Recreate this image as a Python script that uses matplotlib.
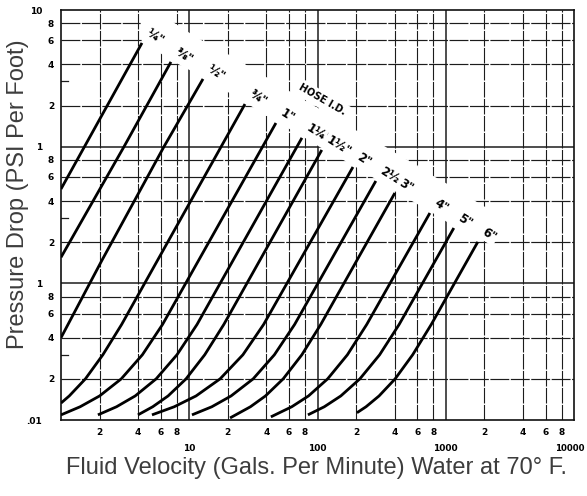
import matplotlib
matplotlib.use("Agg")
import matplotlib.pyplot as plt
from matplotlib.patches import Polygon
from matplotlib.transforms import ScaledTranslation

# Caudal (gpm) y caida de presion (psi por pie), una curva por manguera
hose_labels = ['¼"', '⅜"', '½"', '¾"', '1"', '1¼"', '1½"', '2"', '2½"', '3"', '4"', '5"', '6"']

gpm_0250 = [1, 4.28]
psi_0250 = [0.49, 5.74]
gpm_0375 = [1, 3.1, 7.2]
psi_0375 = [0.155, 1.0, 4.17]
gpm_0500 = [1, 2.09, 6.35, 12.8]
psi_0500 = [0.040, 0.148, 1.0, 3.13]
gpm_0750 = [1, 1.16, 1.55, 2.12, 2.97, 27.2]
psi_0750 = [0.0133, 0.015, 0.02, 0.03, 0.05, 2.05]
gpm_1000 = [1, 1.41, 2.00, 2.95, 4.31, 6.19, 47.4]
psi_1000 = [0.0109, 0.0125, 0.015, 0.02, 0.03, 0.05, 1.49]
gpm_1250 = [1.94, 2.71, 3.79, 5.52, 8.02, 11.5, 75.6]
psi_1250 = [0.0109, 0.0125, 0.015, 0.02, 0.03, 0.05, 1.16]
gpm_1500 = [3.98, 5.19, 6.84, 9.44, 13.2, 18.6, 108]
psi_1500 = [0.0109, 0.0125, 0.015, 0.02, 0.03, 0.05, 0.946]
gpm_2000 = [5.12, 7.64, 11.3, 17.4, 26.2, 38.0, 189]
psi_2000 = [0.0109, 0.0125, 0.015, 0.02, 0.03, 0.05, 0.71]
gpm_2500 = [10.5, 15.0, 21.2, 31.5, 46.1, 66.3, 285]
psi_2500 = [0.0109, 0.0125, 0.015, 0.02, 0.03, 0.05, 0.561]
gpm_3000 = [20.8, 30.0, 39.3, 54.0, 75.5, 106, 401]
psi_3000 = [0.01035, 0.0125, 0.015, 0.02, 0.03, 0.05, 0.458]
gpm_4000 = [43.3, 63.0, 85.1, 120, 171, 242, 752]
psi_4000 = [0.01054, 0.0125, 0.015, 0.02, 0.03, 0.05, 0.327]
gpm_5000 = [84.2, 113, 152, 214, 305, 433, 1156]
psi_5000 = [0.0109, 0.0125, 0.015, 0.02, 0.03, 0.05, 0.254]
gpm_6000 = [203, 239, 302, 403, 552, 771, 1778]
psi_6000 = [0.0113, 0.0125, 0.015, 0.02, 0.03, 0.05, 0.201]

curves = [
    (gpm_0250, psi_0250), (gpm_0375, psi_0375), (gpm_0500, psi_0500),
    (gpm_0750, psi_0750), (gpm_1000, psi_1000), (gpm_1250, psi_1250),
    (gpm_1500, psi_1500), (gpm_2000, psi_2000), (gpm_2500, psi_2500),
    (gpm_3000, psi_3000), (gpm_4000, psi_4000), (gpm_5000, psi_5000),
    (gpm_6000, psi_6000),
]

# rejilla y marcas de los ejes
x_decades = [10, 100, 1000]
x_minor = [2, 4, 6, 8, 20, 40, 60, 80, 200, 400, 600, 800, 2000, 4000, 6000, 8000]
x_major_ticks = [10, 100, 1000, 10000]
x_major_labels = ["10", "100", "1000", "10000"]
x_minor_labels = ["2", "4", "6", "8"] * 4

y_decades = [1, 0.1]
y_minor = [8, 6, 4, 2, 0.8, 0.6, 0.4, 0.2, 0.08, 0.06, 0.04, 0.02]
y_major_ticks = [10, 1, 0.1, 0.01]
y_major_labels = ["10", "1", "1", ".01"]
y_minor_labels = ["8", "6", "4", "2"] * 3
y_short_marks = [3, 0.3, 0.03]

fig = plt.figure(figsize=(5.87, 4.96), dpi=100)
ax = fig.add_axes([61 / 587, 1 - 420 / 496, 513 / 587, 410 / 496])
ax.set_xscale("log")
ax.set_yscale("log")
ax.set_xlim(1, 10000)
ax.set_ylim(0.01, 10)

grid_color = "#1c1c1c"
for v in x_decades:
    ax.axvline(v, color=grid_color, lw=1.1, zorder=1)
for v in x_minor:
    ax.axvline(v, color=grid_color, lw=0.8, ls=(0, (14, 1.3)), zorder=1)
for v in y_decades:
    ax.axhline(v, color=grid_color, lw=1.1, zorder=1)
for v in y_minor:
    ax.axhline(v, color=grid_color, lw=0.85, ls=(0, (16, 1.3)), zorder=1)
for v in y_short_marks:
    ax.axhline(v, xmin=0, xmax=0.014, color=grid_color, lw=0.9, zorder=1)

# franja blanca diagonal donde terminan las curvas y van los rotulos
tops_x = [g[-1] for g, p in curves]
tops_y = [p[-1] for g, p in curves]
lower = [(tops_x[0] * 0.96, 10)] + [(x, y * 1.03) for x, y in zip(tops_x, tops_y)]
upper = [(x * 1.6, y * 1.5) for x, y in zip(tops_x, tops_y)][::-1] + [(tops_x[0] * 1.6, 10)]
band = Polygon(lower + upper, closed=True, facecolor="white", edgecolor="none", zorder=1.6)
ax.add_patch(band)

for (g, p), lab in zip(curves, hose_labels):
    ax.plot(g, p, color="black", lw=2.0, solid_capstyle="butt", solid_joinstyle="round", zorder=3)
    ax.annotate(lab, xy=(g[-1], p[-1]), xytext=(2.5, 6), textcoords="offset points",
                ha="left", va="baseline", rotation=-32, rotation_mode="anchor",
                fontsize=8.5, fontweight="bold", family="DejaVu Sans", zorder=4,
                bbox=dict(boxstyle="square,pad=0.15", facecolor="white", edgecolor="none"))

ax.text(108, 2.2, "HOSE I.D.", rotation=-30, rotation_mode="anchor", ha="center", va="center",
        fontsize=7, fontweight="bold", family="DejaVu Sans", zorder=4,
        bbox=dict(boxstyle="square,pad=0.35", facecolor="white", edgecolor="none"))

# etiquetas de las marcas
tick_font = dict(fontsize=6.5, fontweight="bold", family="DejaVu Sans")
ax.set_xticks(x_major_ticks, x_major_labels, **tick_font)
ax.set_xticks(x_minor, x_minor_labels, minor=True, **tick_font)
ax.set_yticks(y_major_ticks, y_major_labels, **tick_font)
ax.set_yticks(y_minor, y_minor_labels, minor=True, **tick_font)
ax.tick_params(axis="x", which="major", length=0, pad=17)
ax.tick_params(axis="x", which="minor", length=0, pad=6)
ax.tick_params(axis="y", which="major", length=0, pad=13.5)
ax.tick_params(axis="y", which="minor", length=0, pad=5)

# el "10000" se corre un poco a la izquierda para que quepa
last = ax.get_xticklabels()[-1]
last.set_fontsize(6.2)
last.set_transform(last.get_transform() + ScaledTranslation(-4 / 100, 0, fig.dpi_scale_trans))

for side in ["left", "right", "top", "bottom"]:
    ax.spines[side].set_linewidth(1.2)
    ax.spines[side].set_color("#111111")

label_font = dict(fontsize=17, color="#3d3d3d", family="Liberation Sans")
fig.text(18 / 587, 1 - 194 / 496, "Pressure Drop (PSI Per Foot)", rotation=90,
         ha="center", va="center", **label_font)
fig.text(316 / 587, 1 - 468 / 496, "Fluid Velocity (Gals. Per Minute) Water at 70° F.",
         ha="center", va="center", **label_font)

fig.savefig("out.png", dpi=100, facecolor="white")
